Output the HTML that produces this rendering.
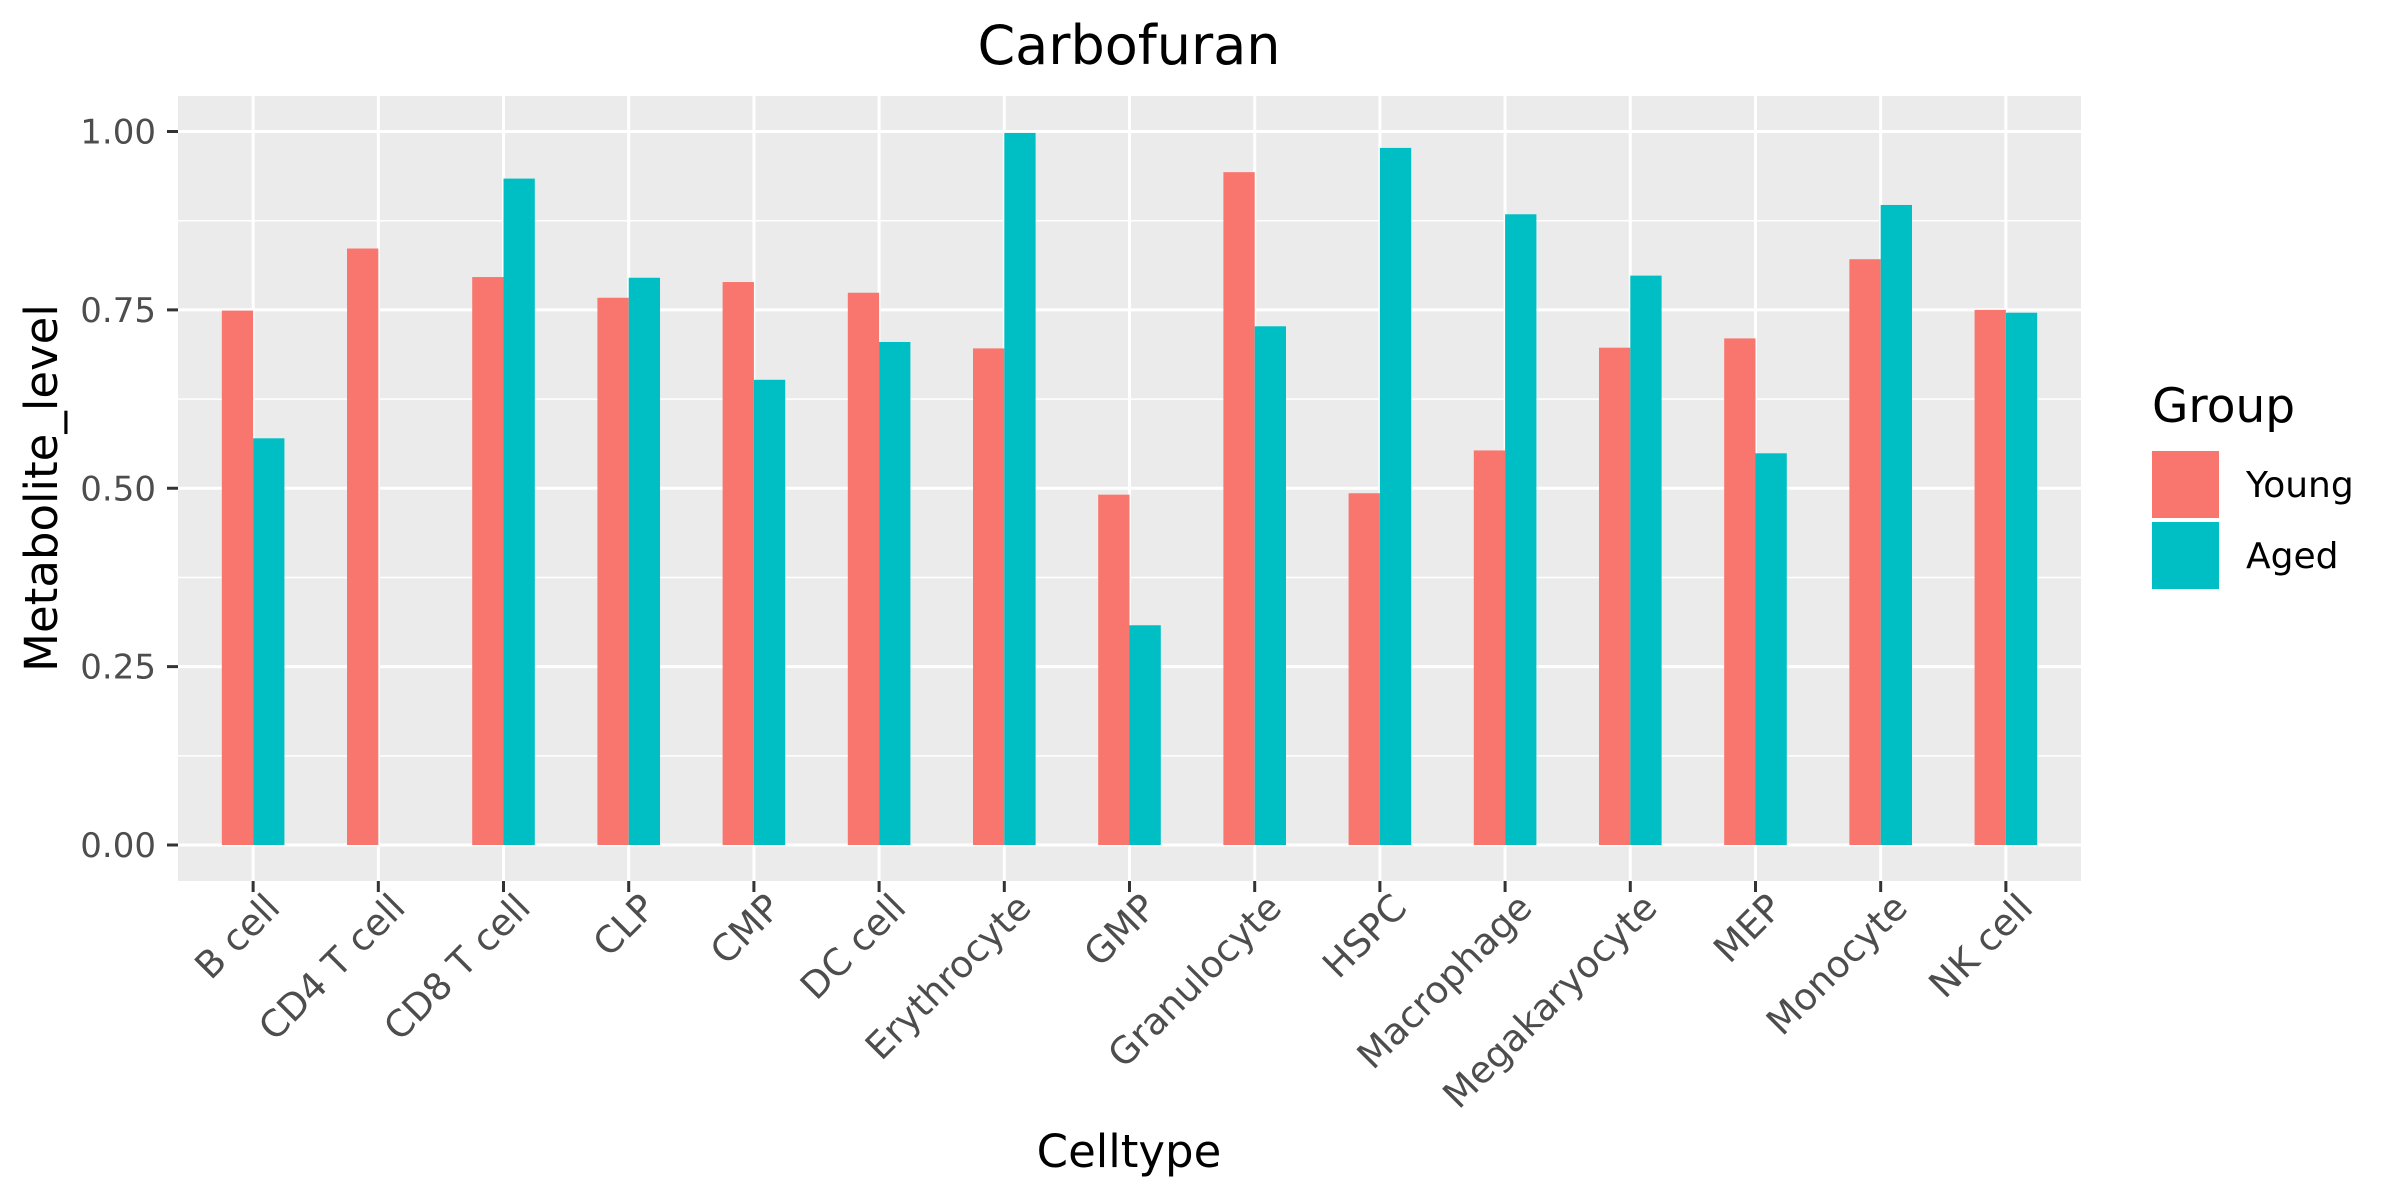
<!DOCTYPE html>
<html><head><meta charset="utf-8"><style>
html,body{margin:0;padding:0;background:#fff;}
svg{display:block;font-family:"DejaVu Sans","Liberation Sans",sans-serif;}
</style></head><body>
<svg id="chart" width="2400" height="1200" viewBox="0 0 2400 1200" xmlns="http://www.w3.org/2000/svg">
<rect width="2400" height="1200" fill="#fff"/>
<text x="1129" y="64" text-anchor="middle" font-size="54" fill="#000">Carbofuran</text>
<rect x="178" y="96" width="1903" height="785" fill="#ebebeb"/>
<g id="grid"></g>
<g id="bars"></g>
<g id="axes"></g>
<text x="1129" y="1167" text-anchor="middle" font-size="45" fill="#000">Celltype</text>
<text transform="translate(57,488) rotate(-90)" text-anchor="middle" font-size="45" fill="#000">Metabolite_level</text>
<g>
<text x="2152" y="422" font-size="47" fill="#000">Group</text>
<rect x="2152" y="451" width="67" height="67" fill="#F8766D"/>
<rect x="2152" y="522" width="67" height="67" fill="#00BFC4"/>
<text x="2246" y="497" font-size="36" fill="#000">Young</text>
<text x="2246" y="568" font-size="36" fill="#000">Aged</text>
</g>
</svg>
<script>
const categories = ["B cell","CD4 T cell","CD8 T cell","CLP","CMP","DC cell","Erythrocyte","GMP","Granulocyte","HSPC","Macrophage","Megakaryocyte","MEP","Monocyte","NK cell"];
const young = [0.749,0.836,0.796,0.767,0.789,0.774,0.696,0.491,0.943,0.493,0.553,0.697,0.710,0.821,0.750];
const aged = [0.570,0,0.934,0.795,0.652,0.705,0.998,0.308,0.727,0.977,0.884,0.798,0.549,0.897,0.746];
const yTicks = [0,0.25,0.5,0.75,1.0];
const yTickLabels = ["0.00","0.25","0.50","0.75","1.00"];

const NS = "http://www.w3.org/2000/svg";
const PL = 178, PR = 2081, PT = 96, PB = 881;
const Y0 = 845, Y1 = 131.5;
const n = categories.length;
const unit = (PR - PL) / (n + 0.2);
function xScale(i){ return PL + (i + 0.6) * unit; }
function yScale(v){ return Y0 - v * (Y0 - Y1); }
function mk(tag, attrs, parent){
  const e = document.createElementNS(NS, tag);
  for (const k in attrs) e.setAttribute(k, attrs[k]);
  parent.appendChild(e);
  return e;
}
const grid = document.getElementById('grid');
const bars = document.getElementById('bars');
const axes = document.getElementById('axes');
for (let k = 0; k < yTicks.length - 1; k++) {
  const v = (yTicks[k] + yTicks[k+1]) / 2;
  const l = mk('line', {x1:PL, x2:PR, y1:yScale(v), y2:yScale(v), stroke:'#fff', 'stroke-width':1.5}, grid);
  
  
}
yTicks.forEach((v, k) => {
  const y = yScale(v);
  const l = mk('line', {x1:PL, x2:PR, y1:y, y2:y, stroke:'#fff', 'stroke-width':3}, grid);
  
  
  const t = mk('line', {x1:167, x2:PL, y1:y, y2:y, stroke:'#333', 'stroke-width':3}, axes);
  
  
  const tx = mk('text', {x:156, y:y + 12, 'text-anchor':'end', 'font-size':34, fill:'#4d4d4d'}, axes);
  tx.textContent = yTickLabels[k];
  
  
});
const bw = unit * 0.25;
categories.forEach((c, i) => {
  const x = xScale(i);
  const l = mk('line', {x1:x, x2:x, y1:PT, y2:PB, stroke:'#fff', 'stroke-width':3}, grid);
  
  
  const by = yScale(young[i]);
  const r1 = mk('rect', {x:x - bw, y:by, width:bw, height:Y0 - by, fill:'#F8766D'}, bars);
  
  
  const ay = yScale(aged[i]);
  const r2 = mk('rect', {x:x, y:ay, width:bw, height:Y0 - ay, fill:'#00BFC4'}, bars);
  
  
  const t = mk('line', {x1:x, x2:x, y1:PB, y2:PB + 11, stroke:'#333', 'stroke-width':3}, axes);
  
  
  const tx = mk('text', {transform:'translate(' + (x + 10) + ',' + 891 + ') rotate(-45)', 'text-anchor':'end', dy:'0.72em', 'font-size':37, fill:'#4d4d4d'}, axes);
  tx.textContent = c;
  
  
});
</script>
</body></html>
